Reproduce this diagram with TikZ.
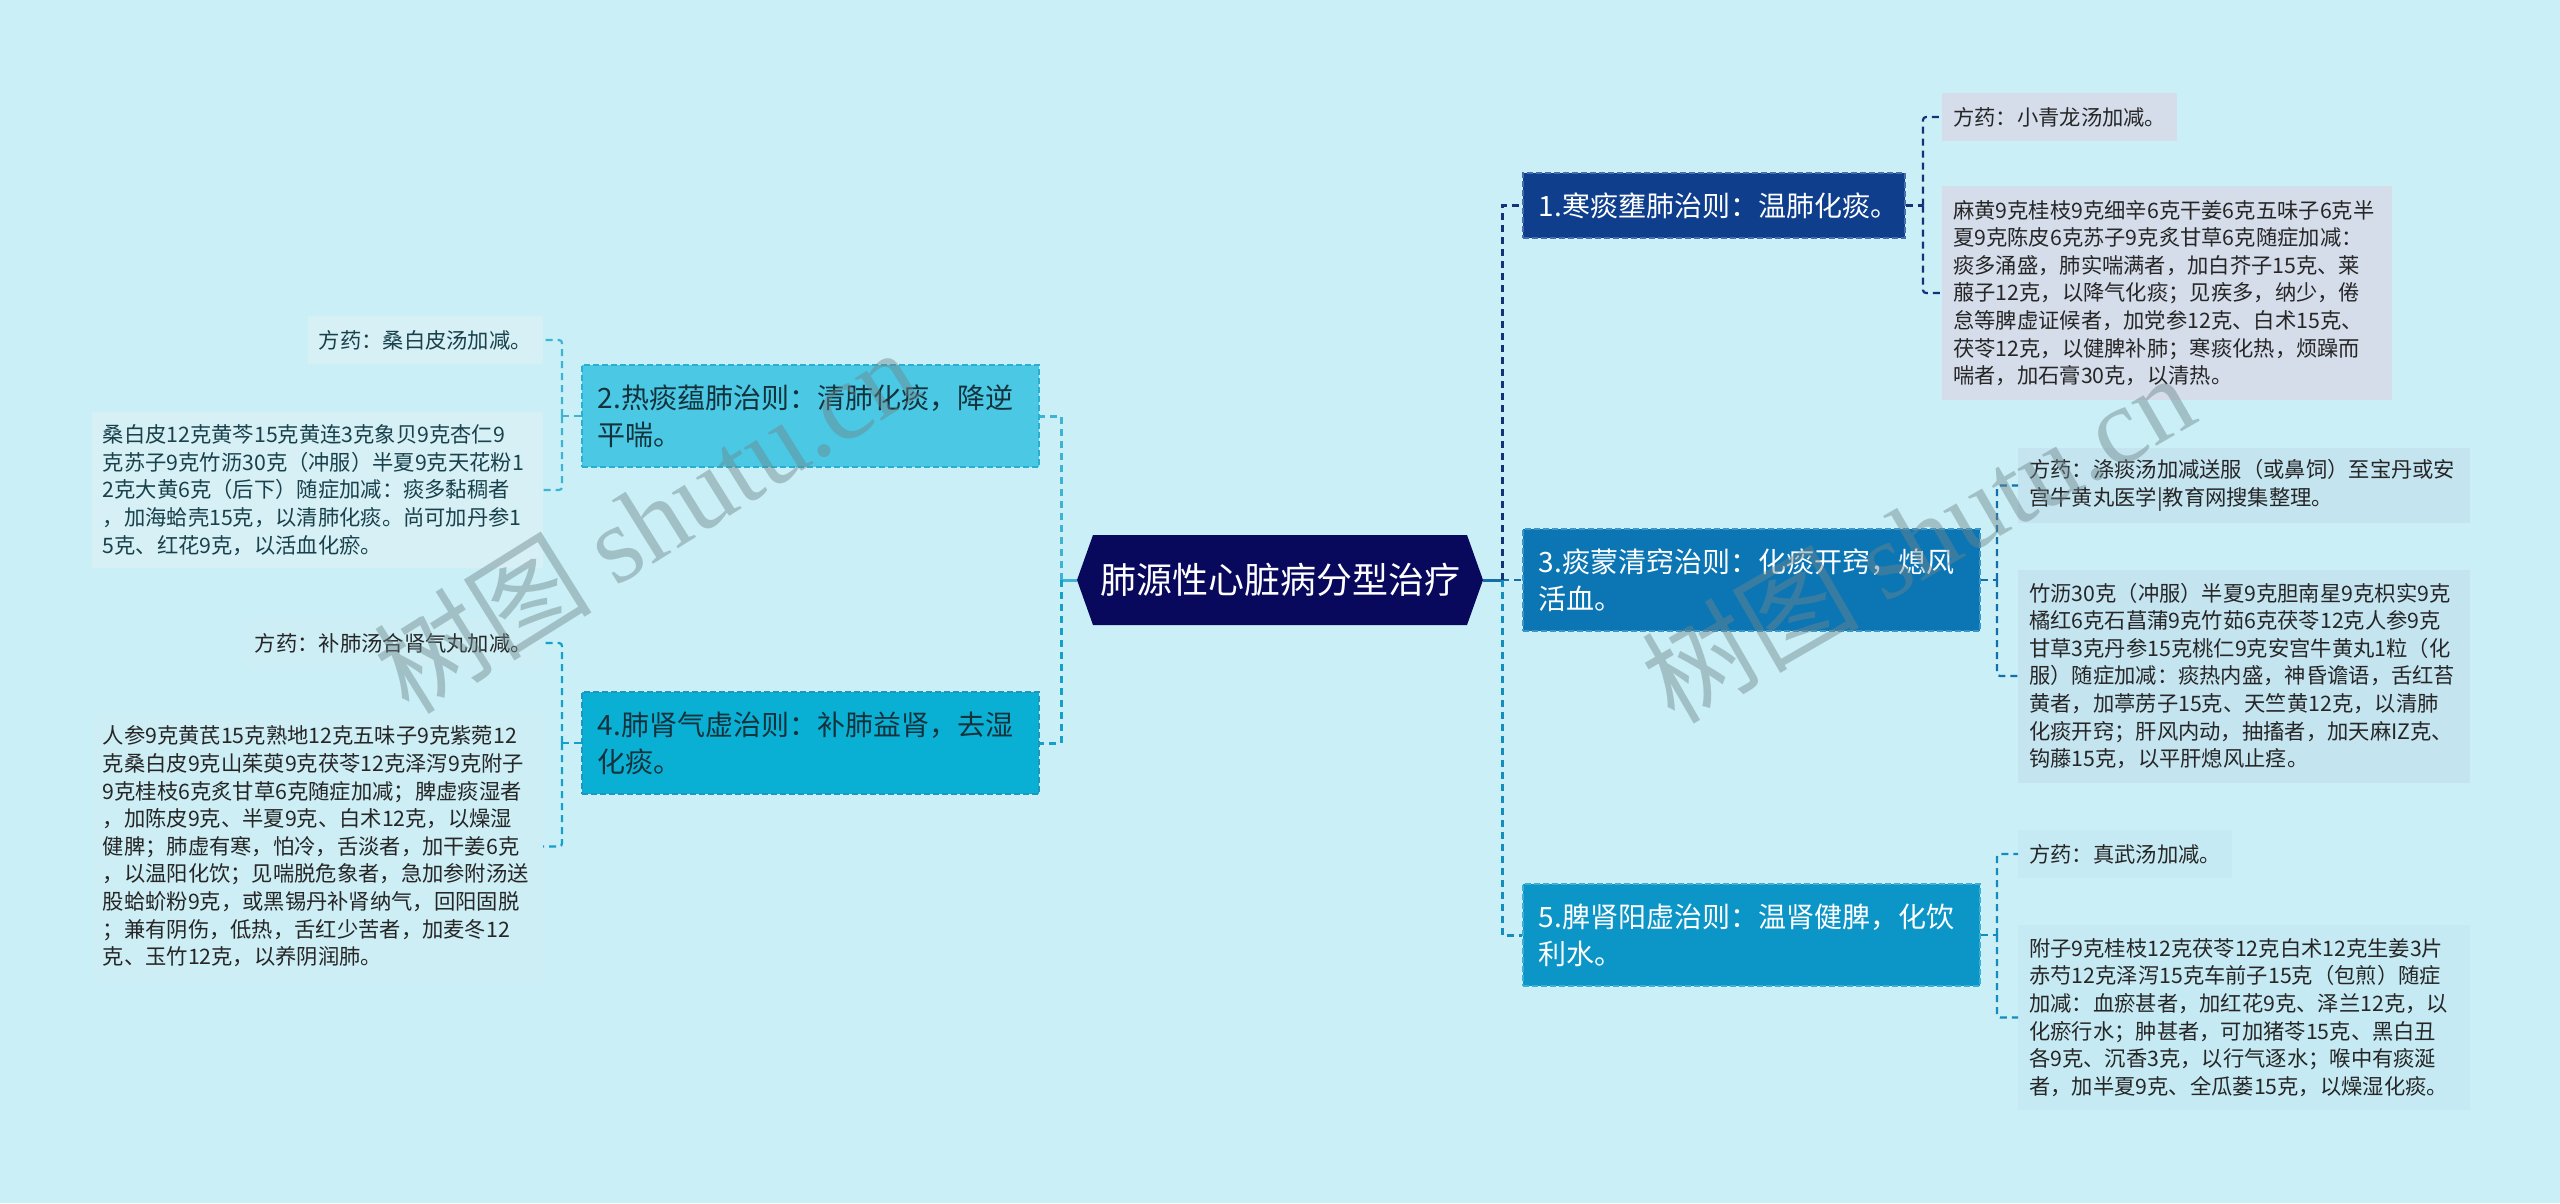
\documentclass[tikz,border=0pt]{standalone}
\usepackage{fontspec}
\setmainfont{Noto Sans CJK SC}
\newfontfamily\wmserif{Liberation Serif}
\usetikzlibrary{calc}
\definecolor{bg}{RGB}{202,239,246}
\definecolor{cnavy}{RGB}{8,8,92}
\definecolor{c1}{RGB}{14,62,140}
\definecolor{c1b}{RGB}{70,110,175}
\definecolor{c2}{RGB}{74,200,228}
\definecolor{c2b}{RGB}{40,175,210}
\definecolor{c3}{RGB}{12,118,180}
\definecolor{c3b}{RGB}{60,150,200}
\definecolor{c4}{RGB}{10,176,212}
\definecolor{c4b}{RGB}{30,150,190}
\definecolor{c5}{RGB}{12,150,200}
\definecolor{c5b}{RGB}{60,175,215}
\definecolor{f1}{RGB}{213,221,235}
\definecolor{f2}{RGB}{214,240,246}
\definecolor{f3}{RGB}{196,228,240}
\definecolor{f4}{RGB}{205,238,245}
\definecolor{f5}{RGB}{198,234,243}
\definecolor{dtext}{RGB}{38,38,38}
\definecolor{dtext2}{RGB}{25,65,75}
\definecolor{btext}{RGB}{20,50,60}
\definecolor{cup}{RGB}{20,50,120}
\definecolor{cmain}{RGB}{20,110,170}
\definecolor{cdown}{RGB}{20,140,190}
\definecolor{cl2}{RGB}{60,180,210}
\definecolor{cl4}{RGB}{20,160,200}
\definecolor{wm}{RGB}{110,135,140}
\begin{document}
\begin{tikzpicture}[x=1pt,y=-1pt,
  conn/.style={line width=2.2pt, dash pattern=on 7pt off 5pt, rounded corners=3pt},
  trunk/.style={line width=3pt, dash pattern=on 7pt off 5pt},
  br/.style={rectangle, inner xsep=16pt, inner ysep=0pt, align=left,
    font=\fontsize{28}{37}\selectfont, draw, line width=1.5pt, dash pattern=on 6pt off 3pt},
  dt/.style={rectangle, inner xsep=11pt, inner ysep=0pt, align=left,
    font=\fontsize{21.3}{27.6}\selectfont, text=dtext},
  short/.style={minimum height=48pt},
  wmark/.style={text=wm, opacity=0.45, font=\fontsize{109}{109}\selectfont}
]
\fill[bg] (0,0) rectangle (2560,1203);
\useasboundingbox (0,0) rectangle (2560,1203);

% central node
\fill[cnavy] (1077,580) -- (1093,535) -- (1467,535) -- (1483,580) -- (1467,625) -- (1093,625) -- cycle;
\node[minimum width=406pt, minimum height=90pt, inner sep=0pt, text=white,
  font=\fontsize{36}{40}\selectfont] (c) at (1280,580) {肺源性心脏病分型治疗};

% branch nodes
\node[br, anchor=west, fill=c1, draw=c1b, text=white, text width=350pt, minimum height=65pt] (n1) at (1522,205.5) {1.寒痰壅肺治则：温肺化痰。};
\node[br, anchor=west, fill=c3, draw=c3b, text=white, text width=425pt, minimum height=102pt] (n3) at (1522,580) {3.痰蒙清窍治则：化痰开窍，熄风\\活血。};
\node[br, anchor=west, fill=c5, draw=c5b, text=white, text width=425pt, minimum height=102pt] (n5) at (1522,935) {5.脾肾阳虚治则：温肾健脾，化饮\\利水。};
\node[br, anchor=west, fill=c2, draw=c2b, text=btext, text width=425pt, minimum height=102pt] (n2) at (581,416) {2.热痰蕴肺治则：清肺化痰，降逆\\平喘。};
\node[br, anchor=west, fill=c4, draw=c4b, text=btext, text width=425pt, minimum height=102pt] (n4) at (581,743) {4.肺肾气虚治则：补肺益肾，去湿\\化痰。};

% detail boxes
\node[dt, short, fill=f1, anchor=west] (d1a) at (1942,117) {方药：小青龙汤加减。};
\node[dt, fill=f1, anchor=west, text width=428pt, minimum height=214pt] (d1b) at (1942,293) {麻黄9克桂枝9克细辛6克干姜6克五味子6克半\\夏9克陈皮6克苏子9克炙甘草6克随症加减：\\痰多涌盛，肺实喘满者，加白芥子15克、莱\\菔子12克，以降气化痰；见疾多，纳少，倦\\怠等脾虚证候者，加党参12克、白术15克、\\茯苓12克，以健脾补肺；寒痰化热，烦躁而\\喘者，加石膏30克，以清热。};

\node[dt, short, fill=f2, text=dtext2, anchor=east] (d2a) at (543,340) {方药：桑白皮汤加减。};
\node[dt, fill=f2, text=dtext2, anchor=east, text width=429pt, minimum height=156pt] (d2b) at (543,490) {桑白皮12克黄芩15克黄连3克象贝9克杏仁9\\克苏子9克竹沥30克（冲服）半夏9克天花粉1\\2克大黄6克（后下）随症加减：痰多黏稠者\\，加海蛤壳15克，以清肺化痰。尚可加丹参1\\5克、红花9克，以活血化瘀。};

\node[dt, short, fill=f4, anchor=east] (d4a) at (543,643) {方药：补肺汤合肾气丸加减。};
\node[dt, fill=f4, anchor=east, text width=429pt, minimum height=268pt] (d4b) at (543,846.5) {人参9克黄芪15克熟地12克五味子9克紫菀12\\克桑白皮9克山茱萸9克茯苓12克泽泻9克附子\\9克桂枝6克炙甘草6克随症加减；脾虚痰湿者\\，加陈皮9克、半夏9克、白术12克，以燥湿\\健脾；肺虚有寒，怕冷，舌淡者，加干姜6克\\，以温阳化饮；见喘脱危象者，急加参附汤送\\股蛤蚧粉9克，或黑锡丹补肾纳气，回阳固脱\\；兼有阴伤，低热，舌红少苦者，加麦冬12\\克、玉竹12克，以养阴润肺。};

\node[dt, fill=f3, anchor=west, text width=430pt, minimum height=75pt] (d3a) at (2018,485.5) {方药：涤痰汤加减送服（或鼻饲）至宝丹或安\\宫牛黄丸医学|教育网搜集整理。};
\node[dt, fill=f3, anchor=west, text width=430pt, minimum height=213pt] (d3b) at (2018,676) {竹沥30克（冲服）半夏9克胆南星9克枳实9克\\橘红6克石菖蒲9克竹茹6克茯苓12克人参9克\\甘草3克丹参15克桃仁9克安宫牛黄丸1粒（化\\服）随症加减：痰热内盛，神昏谵语，舌红苔\\黄者，加葶苈子15克、天竺黄12克，以清肺\\化痰开窍；肝风内动，抽搐者，加天麻IZ克、\\钩藤15克，以平肝熄风止痉。};

\node[dt, short, fill=f5, anchor=west] (d5a) at (2018,854) {方药：真武汤加减。};
\node[dt, fill=f5, anchor=west, text width=430pt, minimum height=185pt] (d5b) at (2018,1017.5) {附子9克桂枝12克茯苓12克白术12克生姜3片\\赤芍12克泽泻15克车前子15克（包煎）随症\\加减：血瘀甚者，加红花9克、泽兰12克，以\\化瘀行水；肿甚者，可加猪苓15克、黑白丑\\各9克、沉香3克，以行气逐水；喉中有痰涎\\者，加半夏9克、全瓜蒌15克，以燥湿化痰。};

% bus coordinates
\coordinate (bR) at (1502,580);
\coordinate (bL) at (1061,580);
\coordinate (b1) at (1923,205.5);
\coordinate (b2) at (562,416);
\coordinate (b3) at (1997,580);
\coordinate (b4) at (562,743);
\coordinate (b5) at (1997,935);

% main connectors
\draw[line width=3pt, cmain] (c.east) -- (bR);
\draw[conn, cmain] (bR) -- (n3.west);
\draw[trunk, cup] (bR) |- (n1.west);
\draw[trunk, cdown] (bR) |- (n5.west);
\draw[line width=3pt, cl2] (c.west) -- (bL);
\draw[trunk, cl2] (bL) |- (n2.east);
\draw[trunk, cl4] (bL) |- (n4.east);

% child connectors
\draw[conn, cup] (n1.east) -- (b1);
\draw[conn, cup] (b1) |- (d1a.west);
\draw[conn, cup] (b1) |- (d1b.west);
\draw[conn, cl2] (n2.west) -- (b2);
\draw[conn, cl2] (b2) |- (d2a.east);
\draw[conn, cl2] (b2) |- (d2b.east);
\draw[conn, cmain] (n3.east) -- (b3);
\draw[conn, cmain] (b3) |- (d3a.west);
\draw[conn, cmain] (b3) |- (d3b.west);
\draw[conn, cl4] (n4.west) -- (b4);
\draw[conn, cl4] (b4) |- (d4a.east);
\draw[conn, cl4] (b4) |- (d4b.east);
\draw[conn, cdown] (n5.east) -- (b5);
\draw[conn, cdown] (b5) |- (d5a.west);
\draw[conn, cdown] (b5) |- (d5b.west);

% watermarks
\node[wmark, rotate=32] (w1) at (646,520) {树图 {\wmserif shutu.cn}};
\node[wmark, rotate=30] (w2) at (1917,537) {树图 {\wmserif shutu.cn}};
\end{tikzpicture}
\end{document}
